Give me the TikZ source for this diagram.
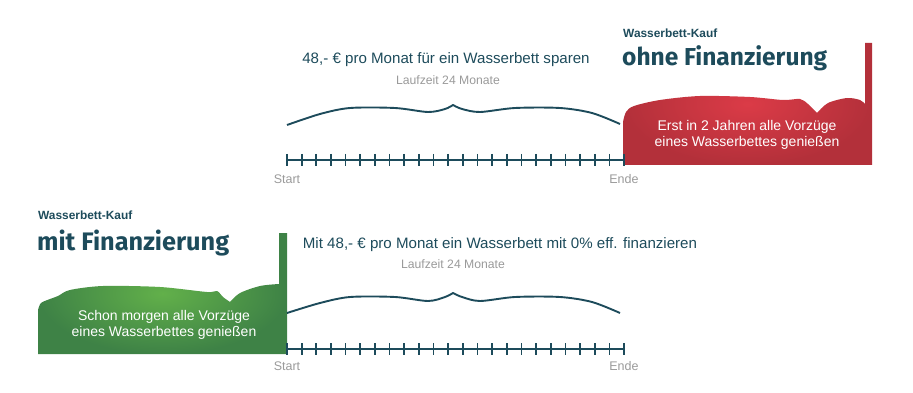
\documentclass[tikz,border=0pt]{standalone}
\usepackage{fontspec}
\usetikzlibrary{calc}
\setmainfont{Liberation Sans}
\newfontfamily\handfont{Fira Sans}
\definecolor{tealC}{HTML}{1D4B5B}
\definecolor{grayC}{HTML}{9A9A9A}
\definecolor{redL}{HTML}{DB3B47}
\definecolor{redD}{HTML}{B3303A}
\definecolor{greenL}{HTML}{62B04A}
\definecolor{greenD}{HTML}{3E8246}
\begin{document}
\begin{tikzpicture}[x=1pt,y=-1pt,
  tline/.style={draw=tealC, line width=2.2pt},
  tickmark/.style={draw=tealC, line width=1.7pt},
  curve/.style={draw=tealC, line width=1.9pt, line join=round},
  maintext/.style={text=tealC, inner sep=0pt, font=\fontsize{15.1}{17}\selectfont},
  subtext/.style={text=grayC, inner sep=0pt, font=\fontsize{12.2}{14}\selectfont},
  endlabel/.style={text=grayC, inner sep=0pt, font=\fontsize{12.5}{14}\selectfont},
  kauf/.style={text=tealC, inner sep=0pt, anchor=west, font=\fontsize{11.9}{14}\selectfont\bfseries},
  hand/.style={text=tealC, inner sep=0pt, anchor=west, font=\handfont\bfseries\fontsize{28}{30}\selectfont},
  blobtext/.style={text=white, inner sep=0pt, align=center, font=\fontsize{14}{16.5}\selectfont}
]
\useasboundingbox (0,0) rectangle (913,393);

% ---------- top: ohne Finanzierung ----------
\shade[inner color=redL, outer color=redD]
  (623,165) -- (623,122)
  -- plot[smooth] coordinates {(623,122) (626,112) (634,106) (660,100) (700,96) (750,97) (783,100) (800,99) (808,104) (817,113)}
  -- plot[smooth] coordinates {(817,113) (828,103) (847,98) (860,100) (865,104)}
  -- (865,43) -- (872,43) -- (872,165) -- cycle;

\coordinate (s1) at (287,160);
\coordinate (e1) at (624,160);
\draw[tline] (s1) -- (e1);
\foreach \i in {0,...,23} {
  \draw[tickmark] ($(s1)!\i/23!(e1) + (0,-6)$) -- ($(s1)!\i/23!(e1) + (0,6)$);
}
\node[endlabel] (start1) at (287,179) {Start};
\node[endlabel] (ende1) at (624,179) {Ende};

\draw[curve] plot[smooth] coordinates {(287,125) (320,114) (350,108) (395,108) (428,112) (445,109) (453,105)}
  -- plot[smooth] coordinates {(453,105) (462,109) (480,112) (515,108) (560,108) (592,113) (620,124)};

\node[maintext] (t1) at (446,60) {48,- € pro Monat für ein Wasserbett sparen};
\node[subtext] (l1) at (448,80) {Laufzeit 24 Monate};

\node[kauf] (k1) at (623,33) {Wasserbett-Kauf};
\node[hand] (h1) at (622,58) {\resizebox{205pt}{!}{ohne Finanzierung}};
\node[blobtext] (b1) at (747,135) {Erst in 2 Jahren alle Vorzüge\\eines Wasserbettes genießen};

% ---------- bottom: mit Finanzierung ----------
\shade[inner color=greenL, outer color=greenD]
  (38,354) -- (38,310)
  -- plot[smooth] coordinates {(38,310) (41,303) (50,299) (58,296) (70,290) (103,286) (160,287) (207,292) (217,291) (223,297) (230,302)}
  -- plot[smooth] coordinates {(230,302) (240,293) (260,286) (279,284)}
  -- (279,233) -- (287,233) -- (287,354) -- cycle;

\coordinate (s2) at (287,349);
\coordinate (e2) at (624,349);
\draw[tline] (s2) -- (e2);
\foreach \i in {0,...,23} {
  \draw[tickmark] ($(s2)!\i/23!(e2) + (0,-6)$) -- ($(s2)!\i/23!(e2) + (0,6)$);
}
\node[endlabel] (start2) at (287,366) {Start};
\node[endlabel] (ende2) at (624,366) {Ende};

\draw[curve] plot[smooth] coordinates {(287,313) (320,303) (350,297) (395,297) (428,301) (445,297) (453,293)}
  -- plot[smooth] coordinates {(453,293) (462,297) (480,301) (515,297) (560,297) (592,302) (620,313)};

\node[maintext] (t2) at (500,245) {Mit 48,- € pro Monat ein Wasserbett mit 0\% eff. finanzieren};
\node[subtext] (l2) at (453,264) {Laufzeit 24 Monate};

\node[kauf] (k2) at (38,215) {Wasserbett-Kauf};
\node[hand] (h2) at (37,243) {\resizebox{192pt}{!}{mit Finanzierung}};
\node[blobtext] (b2) at (164,325) {Schon morgen alle Vorzüge\\eines Wasserbettes genießen};
\end{tikzpicture}
\end{document}
